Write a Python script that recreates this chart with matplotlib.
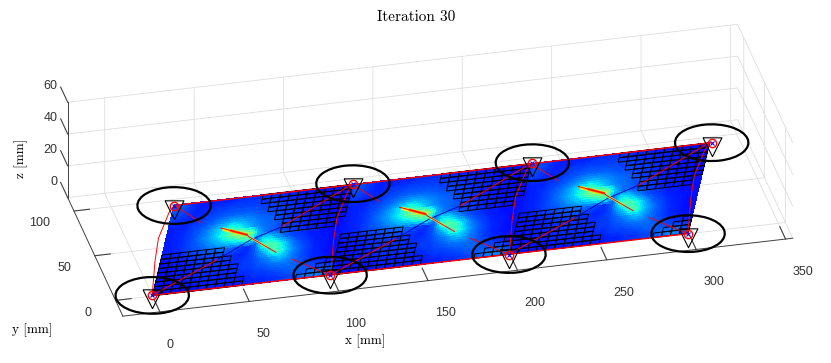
import matplotlib
matplotlib.use('Agg')
import matplotlib.pyplot as plt
from matplotlib.patches import Circle
from mpl_toolkits.mplot3d import art3d
from mpl_toolkits.mplot3d.art3d import Line3DCollection
import numpy as np

# sensors [mm]
sensor_x = [0, 99.4, 199.4, 299.6, 33.8, 134.1, 234.5, 334.6]
sensor_y = [0.8, 0.3, 0.1, 0.2, 93.5, 94.6, 94.7, 93.8]
circle_r = 20

# plate
plate_x0 = 0
plate_y0 = 0.4
plate_w = 99.9      # one cell along x
plate_h = 93.6
plate_skew = 33.8   # x shift of the top edge
n_cells = 3

xticks = [0, 50, 100, 150, 200, 250, 300, 350]
yticks = [0, 50, 100]
zticks = [0, 20, 40, 60]

# field of one cell (percent of the jet range), top row first
field = [
    [22, 20, 18, 16, 15, 15, 16, 16, 16, 17, 17, 17, 17, 17, 17, 16, 16, 16, 15, 15, 15, 14, 14, 14, 14, 14],
    [20, 19, 17, 16, 16, 17, 18, 18, 19, 19, 19, 19, 19, 18, 18, 18, 17, 17, 16, 16, 15, 15, 14, 14, 14, 14],
    [18, 17, 16, 16, 17, 19, 20, 21, 22, 22, 22, 22, 21, 20, 20, 19, 18, 18, 17, 16, 16, 15, 15, 14, 14, 14],
    [15, 16, 16, 18, 19, 21, 23, 26, 28, 30, 29, 27, 25, 23, 22, 21, 19, 18, 17, 16, 15, 15, 14, 14, 14, 14],
    [15, 16, 17, 19, 21, 24, 28, 33, 37, 42, 38, 33, 28, 25, 23, 22, 20, 19, 18, 17, 16, 15, 15, 14, 14, 14],
    [15, 16, 17, 19, 22, 25, 29, 34, 40, 48, 54, 56, 50, 31, 24, 22, 20, 19, 18, 17, 16, 15, 15, 14, 14, 14],
    [15, 16, 17, 19, 21, 23, 26, 29, 32, 34, 37, 41, 43, 24, 35, 35, 29, 24, 20, 18, 17, 15, 15, 14, 14, 14],
    [15, 15, 16, 18, 19, 20, 21, 22, 23, 22, 21, 18, 17, 22, 38, 46, 43, 36, 28, 22, 19, 17, 15, 15, 14, 14],
    [14, 15, 15, 16, 17, 18, 19, 19, 19, 18, 17, 16, 17, 20, 27, 34, 45, 40, 31, 25, 21, 18, 16, 15, 14, 14],
    [14, 14, 15, 15, 16, 17, 17, 17, 17, 17, 17, 17, 18, 19, 22, 25, 29, 32, 29, 24, 21, 18, 16, 15, 14, 14],
    [14, 14, 15, 15, 16, 16, 17, 17, 17, 17, 17, 17, 18, 18, 20, 21, 23, 24, 24, 23, 21, 19, 17, 16, 15, 14],
    [14, 14, 14, 15, 15, 15, 16, 16, 16, 16, 16, 16, 16, 17, 18, 18, 19, 20, 21, 22, 22, 21, 20, 19, 19, 18],
    [14, 14, 14, 14, 14, 14, 15, 15, 15, 15, 15, 15, 15, 15, 16, 16, 17, 17, 18, 19, 20, 22, 24, 26, 24, 20],
]

# elements with visible mesh in one cell of 20x20, (first, last) column per row, bottom row first
mesh_spans = [
    [(0, 9), (16, 19)], [(0, 9), (17, 19)], [(0, 8), (18, 19)], [(0, 8), (19, 19)], [(0, 8)],
    [(0, 7)], [(0, 7)], [(0, 6)], [(0, 6)], [], [],
    [(13, 18)], [(13, 18)], [(13, 19)], [(12, 19)], [(12, 19)],
    [(11, 19)], [(11, 19)], [(10, 19)], [(10, 19)],
]

# paths in one cell [mm]
side_x = [0, 9.7, 17.4, 29.4, 33.8]
side_y = [0.8, 36, 60.7, 86.7, 93.5]
diag_a1_x = [0, 43.4]
diag_a1_y = [0.8, 30.8]
diag_a2_x = [85.6, 134.1]
diag_a2_y = [57.7, 94.6]
diag_mid_x = [43.4, 66, 85.6]
diag_mid_y = [30.8, 47.7, 57.7]
diag_b1_x = [33.8, 43.9]
diag_b1_y = [93.5, 72.4]
crack_x = [53.1, 65.3, 65.8, 76.3]
crack_y = [63.8, 53.4, 51.1, 31.3]
diag_b2_x = [83.1, 99.4]
diag_b2_y = [22.1, 0.3]
# bright streak along the crack
streak_yellow_x = [54.5, 63]
streak_yellow_y = [61.9, 55.2]
streak_red_x = [58, 65]
streak_red_y = [59.5, 53.6]
streak_low_x = [67, 72.5]
streak_low_y = [48.8, 38.4]

fig = plt.figure(figsize=(8.31, 3.63), dpi=100)
ax = fig.add_axes([0.0042, -0.6444, 1, 2.289], projection='3d', proj_type='ortho', computed_zorder=False)
ax.patch.set_alpha(0)
ax.set_xlim(-20.7, 354)
ax.set_ylim(-17.6, 115)
ax.set_zlim(0, 60)
ax.set_box_aspect((374.7, 132.6, 60), zoom=0.862)
ax.view_init(elev=30, azim=-103.1)

# plate surface, colours smoothed between the table values like gouraud shading
table = np.array(field[::-1], dtype=float) / 100
table = np.tile(table, (1, n_cells))
nv, nu = table.shape
ufine = (np.arange(nu * 3) + 0.5) / 3 - 0.5
vfine = (np.arange(nv * 3) + 0.5) / 3 - 0.5
tmp = np.array([np.interp(ufine, np.arange(nu), row) for row in table])
smooth = np.array([np.interp(vfine, np.arange(nv), col) for col in tmp.T]).T
u = np.linspace(0, n_cells, nu * 3 + 1)
v = np.linspace(0, 1, nv * 3 + 1)
U, V = np.meshgrid(u, v)
X = plate_x0 + plate_w * U + plate_skew * V
Y = plate_y0 + plate_h * V
ax.plot_surface(X, Y, np.zeros_like(X), facecolors=plt.cm.jet(smooth), rstride=1, cstride=1,
                shade=False, antialiased=False, linewidth=0, zorder=2)

# black mesh
segs = []
for k in range(n_cells):
    for row, spans in enumerate(mesh_spans):
        for c0, c1 in spans:
            for c in range(c0, c1 + 1):
                corners = [(k + c / 20, row / 20), (k + (c + 1) / 20, row / 20),
                           (k + (c + 1) / 20, (row + 1) / 20), (k + c / 20, (row + 1) / 20),
                           (k + c / 20, row / 20)]
                segs.append([(plate_x0 + plate_w * a + plate_skew * b, plate_y0 + plate_h * b, 0) for a, b in corners])
ax.add_collection3d(Line3DCollection(segs, colors='k', linewidths=0.7, zorder=3))

# red paths
for k in range(n_cells):
    off = k * plate_w
    ax.plot(np.array(diag_mid_x) + off, diag_mid_y, 0, color=(0, 0, 0.7), lw=0.6, zorder=4)
    ax.plot(np.array(streak_yellow_x) + off, streak_yellow_y, 0, color=(1, 0.9, 0), lw=2.4, zorder=4)
    ax.plot(np.array(streak_red_x) + off, streak_red_y, 0, color=(1, 0.35, 0), lw=1.8, zorder=4)
    ax.plot(np.array(streak_low_x) + off, streak_low_y, 0, color=(0.8, 1, 0.2), lw=1.5, zorder=4)
    for px, py in [(diag_a1_x, diag_a1_y), (diag_a2_x, diag_a2_y), (diag_b1_x, diag_b1_y),
                   (crack_x, crack_y), (diag_b2_x, diag_b2_y)]:
        ax.plot(np.array(px) + off, py, 0, color='r', lw=0.7, zorder=5)
for k in range(n_cells + 1):
    ax.plot(np.array(side_x) + k * plate_w, side_y, 0, color='r', lw=0.7, zorder=5)
ax.plot([sensor_x[0], sensor_x[3]], [sensor_y[0], sensor_y[3]], 0, color='r', lw=1, zorder=5)
ax.plot([sensor_x[4], sensor_x[7]], [sensor_y[4], sensor_y[7]], 0, color='r', lw=1, zorder=5)

# sensors
tri = [(-0.5, 0.3), (0.5, 0.3), (0, -0.7), (-0.5, 0.3)]
ax.plot(sensor_x, sensor_y, 0, ls='none', marker=tri, ms=19, mfc='none', mec='k', mew=0.8, zorder=6)
ax.plot(sensor_x, sensor_y, 0, ls='none', marker='x', ms=3.5, mec='b', mew=0.8, zorder=7)
ax.plot(sensor_x, sensor_y, 0, ls='none', marker='o', ms=6, mfc='none', mec='r', mew=1, zorder=8)
for sx, sy in zip(sensor_x, sensor_y):
    c = Circle((sx, sy), circle_r, fill=False, ec='k', lw=1.6, zorder=9)
    ax.add_patch(c)
    art3d.pathpatch_2d_to_3d(c, z=0, zdir='z')

# axes
ax.set_xticks(xticks)
ax.set_yticks(yticks)
ax.set_zticks(zticks)
for axis, tick_len in ((ax.xaxis, 1.3), (ax.yaxis, 0.29), (ax.zaxis, 1.6)):
    axis.set_pane_color((1, 1, 1, 0))
    axis.pane.set_edgecolor((0.87, 0.87, 0.87))
    axis.line.set_color((0.25, 0.25, 0.25))
    axis.line.set_linewidth(0.7)
    axis._axinfo['grid'].update(color=(0.87, 0.87, 0.87), linewidth=0.6)
    axis._axinfo['tick'].update(inward_factor=0, outward_factor=tick_len)
# z ticks and labels run along y, as in matlab
ax.zaxis._get_tickdir = lambda pos: 1
ax.zaxis._axmask = lambda: [False, True, False]
ax.tick_params(labelsize=9, labelcolor=(0.2, 0.2, 0.2), color=(0.25, 0.25, 0.25), width=0.7)
ax.tick_params(axis='x', pad=31)
ax.tick_params(axis='y', pad=3)
ax.tick_params(axis='z', pad=50)
for lab in ax.get_xticklabels() + ax.get_yticklabels() + ax.get_zticklabels():
    lab.set_fontfamily('Liberation Sans')
for lab in ax.get_xticklabels():
    lab.set_ha('left')
for lab in ax.get_yticklabels():
    lab.set_ha('right')
    lab.set_va('top')
for lab in ax.get_zticklabels():
    lab.set_ha('right')

fig.text(416 / 831, 1 - 17 / 363, 'Iteration 30', family='cmr10', fontsize=11, ha='center', va='center')
fig.text(365 / 831, 1 - 341 / 363, 'x [mm]', family='cmr10', fontsize=9.5, ha='center', va='center')
fig.text(32 / 831, 1 - 330 / 363, 'y [mm]', family='cmr10', fontsize=9.5, ha='center', va='center')
fig.text(21 / 831, 1 - 158 / 363, 'z [mm]', family='cmr10', fontsize=9.5, ha='center', va='center', rotation=90)

fig.savefig('out.png', dpi=100)
